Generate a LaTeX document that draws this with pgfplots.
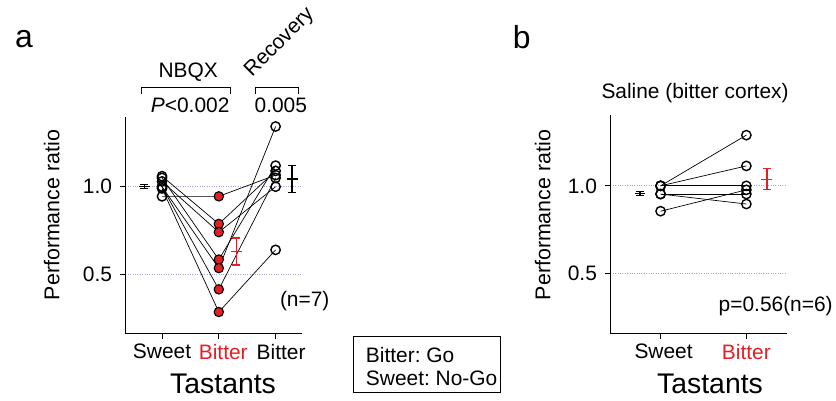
\documentclass[border=0pt]{standalone}
\usepackage{pgfplots}
\pgfplotsset{compat=1.18}
\usepackage{fontspec}
\setmainfont{Liberation Sans}
\definecolor{myred}{RGB}{228,30,36}
\definecolor{gridc}{RGB}{165,165,210}
\newcommand{\fs}[1]{\fontsize{#1}{#1}\selectfont}
\pgfplotsset{
  panel/.style={
    scale only axis, anchor=south west,
    axis lines=left, axis line style={-, line width=1pt},
    tick align=outside, major tick length=5pt,
    tick style={black, line width=1pt},
    ytick={0.5,1.0}, yticklabels={0.5,1.0},
    ymajorgrids, major grid style={dotted, gridc, line width=1pt},
    tick label style={font=\fs{21}},
    yticklabel style={xshift=-5pt},
    xticklabel style={yshift=-2pt},
    clip=false,
  },
  pair/.style={black, line width=0.7pt, no marks},
  opencirc/.style={only marks, mark=o, mark size=4.7pt, mark options={line width=1.4pt, fill=white, draw=black}},
  redcirc/.style={only marks, mark=*, mark size=4.7pt, mark options={line width=1.1pt, fill=myred, draw=black}},
  sem/.style={#1, line width=1.3pt, mark=-, mark size=5.5pt, mark options={#1, line width=1.3pt},
    error bars/.cd, y dir=both, y explicit,
    error bar style={#1, line width=1.3pt},
    error mark options={rotate=90, #1, line width=1.3pt, mark size=4pt}},
}
\begin{document}
\frenchspacing
\begin{tikzpicture}[x=1pt,y=1pt]
\path (0,0) rectangle (836,402);
% ---------------- panel a
\begin{axis}[panel, at={(126pt,67pt)}, width=177pt, height=218pt,
  xmin=0.356, xmax=3.46, ymin=0.163, ymax=1.40,
  xtick={1,2,3}, xticklabels={Sweet,{\hspace{9pt}\color{myred}Bitter},{\hspace{11pt}Bitter}}]
\addplot[pair] coordinates {(1,1.06) (2,0.788) (3,1.09)};
\addplot[pair] coordinates {(1,1.05) (2,0.585) (3,1.12)};
\addplot[pair] coordinates {(1,1.03) (2,0.741) (3,1.00)};
\addplot[pair] coordinates {(1,1.00) (2,0.536) (3,1.343)};
\addplot[pair] coordinates {(1,1.00) (2,0.415) (3,1.05)};
\addplot[pair] coordinates {(1,0.99) (2,0.286) (3,0.64)};
\addplot[pair] coordinates {(1,0.945) (2,0.945) (3,1.066)};
\addplot[opencirc] coordinates {(1,1.06) (1,1.05) (1,1.03) (1,1.00) (1,1.00) (1,0.99) (1,0.945)};
\addplot[redcirc] coordinates {(2,0.788) (2,0.585) (2,0.741) (2,0.536) (2,0.415) (2,0.286) (2,0.945)};
\addplot[opencirc] coordinates {(3,1.09) (3,1.12) (3,1.00) (3,1.343) (3,1.05) (3,0.64) (3,1.066)};
\addplot[sem=black] coordinates {(0.69,1.0) +- (0,0.012)};
\addplot[sem=myred] coordinates {(2.31,0.63) +- (0,0.077)};
\addplot[sem=black] coordinates {(3.29,1.044) +- (0,0.078)};
\end{axis}
% ---------------- panel b
\begin{axis}[panel, at={(613pt,67pt)}, width=177pt, height=220pt,
  xmin=0.415, xmax=2.47, ymin=0.155, ymax=1.408,
  xtick={1,2}, xticklabels={\hspace{6pt}Sweet,{\color{myred}Bitter}}]
\addplot[pair] coordinates {(1,1.00) (2,1.29)};
\addplot[pair] coordinates {(1,1.00) (2,1.114)};
\addplot[pair] coordinates {(1,1.00) (2,1.00)};
\addplot[pair] coordinates {(1,0.953) (2,0.953)};
\addplot[pair] coordinates {(1,0.953) (2,0.896)};
\addplot[pair] coordinates {(1,0.855) (2,0.977)};
\addplot[opencirc] coordinates {(1,1.00) (1,1.00) (1,1.00) (1,0.953) (1,0.953) (1,0.855)};
\addplot[opencirc] coordinates {(2,1.29) (2,1.114) (2,1.00) (2,0.953) (2,0.896) (2,0.977)};
\addplot[sem=black] coordinates {(0.76,0.956) +- (0,0.013)};
\addplot[sem=myred] coordinates {(2.24,1.038) +- (0,0.06)};
\end{axis}
% ---------------- annotations (y = 402 - pixel row)
\node[font=\fs{32}] at (24,363) {a};
\node[font=\fs{32}] at (524,365) {b};
\node[font=\fs{21.5}, rotate=90] at (52,186) {Performance ratio};
\node[font=\fs{21.5}, rotate=90] at (545,186) {Performance ratio};
\node[font=\fs{28.5}, anchor=base, inner sep=0pt] at (224,6.5) {Tastants};
\node[font=\fs{28.5}, anchor=base, inner sep=0pt] at (713,6.5) {Tastants};
\node[font=\fs{21}] at (189,330) {NBQX};
\draw[line width=1pt] (142,308) -- (142,314) -- (231,314) -- (231,308);
\node[font=\fs{21}] at (191,296) {\textit{P}<0.002};
\draw[line width=1pt] (257,308) -- (257,314) -- (300,314) -- (300,308);
\node[font=\fs{21}] at (282,296) {0.005};
\node[font=\fs{21}, rotate=45, inner sep=0pt] at (281,359) {Recovery};
\node[font=\fs{21}] at (306,100) {(n=7)};
\node[font=\fs{21}] at (698,309) {Saline (bitter cortex)};
\node[font=\fs{21}] at (779,95) {p=0.56(n=6)};
\draw[line width=1pt] (355,64) rectangle (503,8);
\node[font=\fs{21}, anchor=west] at (364,45) {Bitter: Go};
\node[font=\fs{21}, anchor=west] at (364,22) {Sweet: No-Go};
\end{tikzpicture}
\end{document}
